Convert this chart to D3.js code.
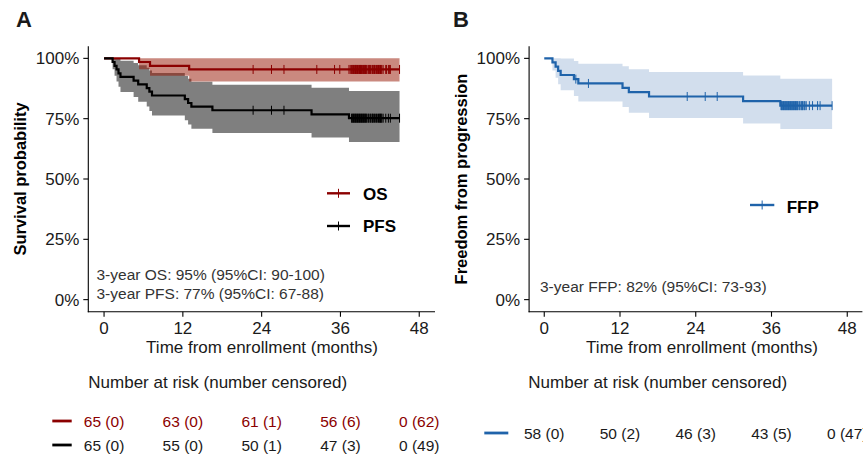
<!DOCTYPE html>
<html>
<head>
<meta charset="utf-8">
<script src="https://cdn.jsdelivr.net/npm/d3@7"></script>
<style>
  body { margin: 0; background: #fff; }
  svg { display: block; font-family: 'Liberation Sans', Arial, Helvetica, sans-serif; }
</style>
</head>
<body>
<svg id="chart" width="863" height="456"></svg>
<script>
// ── Shared axes ──
const xTicks = [0, 12, 24, 36, 48];
const yTicks = [0, 0.25, 0.5, 0.75, 1];

// ── Panel A: overall survival (n = 65) ──
const osTime  = [0, 5.33, 7.0, 12.96];
const osSurv  = [1, 0.985, 0.969, 0.954];
const osLower = [1, 0.955, 0.928, 0.904];
const osUpper = [1, 1, 1, 1];
const osEnd = 45.0;
const osCensor = [22.7, 25.5, 27.4, 32.4, 35.1, 35.9,
  37.3, 37.5, 37.7, 37.8, 37.9, 38.0, 38.1, 38.2, 38.3, 38.35, 38.4, 38.5, 38.6, 38.7,
  38.8, 38.9, 39.0, 39.05, 39.1, 39.2, 39.3, 39.4, 39.5, 39.6, 39.7, 39.75, 39.8, 39.9,
  40.0, 40.2, 40.3, 40.45, 40.5, 40.6, 40.8, 40.9, 41.0, 41.15, 41.2, 41.3, 41.5, 41.6,
  41.7, 41.8, 41.9, 42.0, 42.1, 42.2, 42.3, 42.5, 42.9, 43.0, 43.3, 43.45, 43.6, 45.0];
const osRisk = ['65 (0)', '63 (0)', '61 (1)', '56 (6)', '0 (62)'];

// ── Panel A: progression-free survival (n = 65) ──
const pfsTime  = [0, 1.3, 1.6, 1.9, 2.2, 2.5, 4.5, 5.2, 6.5, 6.9, 7.3, 12.3, 12.8, 13.3, 16.5, 31.6, 37.3];
const pfsSurv  = [1, 0.985, 0.969, 0.954, 0.938, 0.923, 0.908, 0.892, 0.877, 0.862, 0.846, 0.831, 0.815, 0.800, 0.785, 0.768, 0.752];
const pfsLower = [1, 0.955, 0.928, 0.904, 0.882, 0.861, 0.840, 0.820, 0.801, 0.782, 0.763, 0.744, 0.726, 0.708, 0.691, 0.672, 0.653];
const pfsUpper = [1, 1, 1, 1, 0.999, 0.990, 0.981, 0.971, 0.961, 0.950, 0.939, 0.927, 0.915, 0.903, 0.891, 0.878, 0.865];
const pfsEnd = 45.0;
const pfsCensor = [22.7, 25.5, 27.4,
  37.7, 37.8, 37.9, 38.0, 38.1, 38.2, 38.3, 38.4, 38.5, 38.6, 38.7, 38.8, 38.9, 39.0,
  39.1, 39.2, 39.3, 39.4, 39.5, 39.6, 39.7, 39.8, 39.9, 40.0, 40.2, 40.3, 40.5, 40.6,
  40.8, 40.9, 41.0, 41.2, 41.3, 41.5, 41.6, 41.8, 41.9, 42.0, 42.1, 42.2, 42.3,
  42.5, 42.9, 43.3, 43.6, 45.0];
const pfsRisk = ['65 (0)', '55 (0)', '50 (1)', '47 (3)', '0 (49)'];

// ── Panel B: freedom from progression (n = 58) ──
const ffpTime  = [0, 1.3, 1.8, 2.2, 2.6, 4.7, 5.4, 12.4, 13.4, 16.6, 31.5, 37.4];
const ffpSurv  = [1, 0.983, 0.966, 0.948, 0.931, 0.914, 0.896, 0.878, 0.860, 0.842, 0.823, 0.804];
const ffpLower = [1, 0.950, 0.920, 0.893, 0.868, 0.844, 0.821, 0.798, 0.775, 0.753, 0.730, 0.707];
const ffpUpper = [1, 1, 1, 1, 0.999, 0.989, 0.978, 0.967, 0.955, 0.943, 0.929, 0.915];
const ffpEnd = 45.6;
const ffpCensor = [5.0, 7.0, 22.65, 25.5, 27.4,
  37.5, 37.6, 37.7, 37.8, 37.9, 38.0, 38.1, 38.2, 38.3, 38.4, 38.5, 38.6, 38.7, 38.8,
  38.9, 39.0, 39.1, 39.2, 39.3, 39.4, 39.5, 39.6, 39.7, 39.8, 39.9, 40.0, 40.1, 40.2,
  40.4, 40.5, 40.7, 40.8, 40.9, 41.0, 41.2, 41.3, 41.5,
  42.0, 42.5, 43.3, 43.7, 45.6];
const ffpRisk = ['58 (0)', '50 (2)', '46 (3)', '43 (5)', '0 (47)'];

const RED = '#8B0000', BLACK = '#000000', BLUE = '#1F63AA';
const TEXT = '#1a1a1a';

const svg = d3.select('#chart');

function survAt(times, surv, t) {
  let s = surv[0];
  times.forEach((tt, i) => { if (tt <= t) s = surv[i]; });
  return s;
}

function stepPoints(times, vals, end) {
  const pts = times.map((t, i) => [t, vals[i]]);
  pts.push([end, vals[vals.length - 1]]);
  return pts;
}

// ── Axes frame for a panel ──
function drawAxes(g, x, y, yTitle, titleX, titleCx) {
  const [x0, x1] = x.range();
  const [yb, yt] = y.range();
  g.append('line').attr('x1', x0).attr('x2', x0).attr('y1', yt).attr('y2', yb + 0.5)
    .attr('stroke', '#000').attr('stroke-width', 1.1);
  g.append('line').attr('x1', x0 - 0.5).attr('x2', x1).attr('y1', yb).attr('y2', yb)
    .attr('stroke', '#000').attr('stroke-width', 1.1);

  yTicks.forEach(v => {
    g.append('line').attr('x1', x0 - 5).attr('x2', x0).attr('y1', y(v)).attr('y2', y(v))
      .attr('stroke', '#000').attr('stroke-width', 1.1);
    g.append('text').attr('x', x0 - 9).attr('y', y(v)).attr('dy', '0.36em')
      .attr('text-anchor', 'end').attr('font-size', 17).attr('fill', TEXT)
      .text(d3.format('.0%')(v));
  });
  xTicks.forEach(v => {
    g.append('line').attr('x1', x(v)).attr('x2', x(v)).attr('y1', yb).attr('y2', yb + 5)
      .attr('stroke', '#000').attr('stroke-width', 1.1);
    g.append('text').attr('x', x(v)).attr('y', 333.5)
      .attr('text-anchor', 'middle').attr('font-size', 17).attr('fill', TEXT).text(v);
  });

  g.append('text').attr('x', titleCx).attr('y', 353)
    .attr('text-anchor', 'middle').attr('font-size', 17).attr('fill', TEXT)
    .text('Time from enrollment (months)');
  g.append('text').attr('transform', `translate(${titleX},${(yt + yb) / 2}) rotate(-90)`)
    .attr('text-anchor', 'middle').attr('font-size', 16.5).attr('font-weight', 'bold')
    .attr('fill', '#000').text(yTitle);
}

function drawBand(g, x, y, s) {
  const pts = s.time.map((t, i) => ({ t, lo: s.lower[i], hi: s.upper[i] }));
  pts.push({ t: s.end, lo: s.lower[s.lower.length - 1], hi: s.upper[s.upper.length - 1] });
  g.append('path').datum(pts)
    .attr('d', d3.area().curve(d3.curveStepAfter).x(d => x(d.t)).y0(d => y(d.lo)).y1(d => y(d.hi)))
    .attr('fill', s.band).attr('fill-opacity', s.bandOpacity).attr('stroke', 'none');
}

function drawCurve(g, x, y, s) {
  g.append('path').datum(stepPoints(s.time, s.surv, s.end))
    .attr('d', d3.line().curve(d3.curveStepAfter).x(d => x(d[0])).y(d => y(d[1])))
    .attr('fill', 'none').attr('stroke', s.color).attr('stroke-width', 2.2);
}

function drawCensor(g, x, y, s) {
  g.selectAll(null).data(s.censor).enter().append('line')
    .attr('x1', d => x(d)).attr('x2', d => x(d))
    .attr('y1', d => y(survAt(s.time, s.surv, d)) - 4.5)
    .attr('y2', d => y(survAt(s.time, s.surv, d)) + 4.5)
    .attr('stroke', s.color).attr('stroke-width', 1);
}

function legendKey(g, x1, x2, yy, color, label, tx, ty) {
  g.append('line').attr('x1', x1).attr('x2', x2).attr('y1', yy).attr('y2', yy)
    .attr('stroke', color).attr('stroke-width', 2.4);
  g.append('line').attr('x1', (x1 + x2) / 2).attr('x2', (x1 + x2) / 2)
    .attr('y1', yy - 4.5).attr('y2', yy + 4.5).attr('stroke', color).attr('stroke-width', 1);
  g.append('text').attr('x', tx).attr('y', ty).attr('font-size', 17)
    .attr('font-weight', 'bold').attr('fill', '#000').text(label);
}

function drawRisk(g, x, rows, titleX, lineX1, lineX2) {
  g.append('text').attr('x', titleX).attr('y', 388).attr('font-size', 17)
    .attr('fill', TEXT).text('Number at risk (number censored)');
  rows.forEach(r => {
    g.append('line').attr('x1', lineX1).attr('x2', lineX2).attr('y1', r.y).attr('y2', r.y)
      .attr('stroke', r.lineColor).attr('stroke-width', 2.8);
    g.selectAll(null).data(r.values).enter().append('text')
      .attr('x', (d, i) => x(xTicks[i])).attr('y', r.y + 5.5)
      .attr('text-anchor', 'middle').attr('font-size', 15.5).attr('fill', r.textColor)
      .text(d => d);
  });
}

// ── Panel A ──
const xA = d3.scaleLinear().domain([-2.4, 50.4]).range([88.3, 435]);
const yA = d3.scaleLinear().domain([-0.05, 1.05]).range([311.7, 46.3]);
const gA = svg.append('g');

const os  = { time: osTime, surv: osSurv, lower: osLower, upper: osUpper, end: osEnd, censor: osCensor,
              color: RED, band: '#961400', bandOpacity: 0.5 };
const pfs = { time: pfsTime, surv: pfsSurv, lower: pfsLower, upper: pfsUpper, end: pfsEnd, censor: pfsCensor,
              color: BLACK, band: '#000000', bandOpacity: 0.5 };

drawBand(gA, xA, yA, pfs);
drawBand(gA, xA, yA, os);
drawCurve(gA, xA, yA, os);
drawCurve(gA, xA, yA, pfs);
drawCensor(gA, xA, yA, os);
drawCensor(gA, xA, yA, pfs);
drawAxes(gA, xA, yA, 'Survival probability', 26, 262);

gA.append('text').attr('x', 16).attr('y', 26.5).attr('font-size', 22)
  .attr('font-weight', 'bold').attr('fill', '#1a1a1a').text('A');

legendKey(gA, 327, 350, 193.3, RED, 'OS', 363, 200);
legendKey(gA, 327, 350, 226, BLACK, 'PFS', 363, 232.3);

gA.append('text').attr('x', 96.5).attr('y', 279.5).attr('font-size', 15.5)
  .attr('fill', '#333').text('3-year OS: 95% (95%CI: 90-100)');
gA.append('text').attr('x', 96.5).attr('y', 298.5).attr('font-size', 15.5)
  .attr('fill', '#333').text('3-year PFS: 77% (95%CI: 67-88)');

drawRisk(gA, xA, [
  { values: osRisk, y: 421, lineColor: RED, textColor: RED },
  { values: pfsRisk, y: 445, lineColor: BLACK, textColor: TEXT }
], 88.3, 52.3, 71.7);

// ── Panel B ──
const xB = d3.scaleLinear().domain([-2.4, 50.4]).range([529.1, 862.4]);
const yB = d3.scaleLinear().domain([-0.05, 1.05]).range([311.7, 46.3]);
const gB = svg.append('g');

const ffp = { time: ffpTime, surv: ffpSurv, lower: ffpLower, upper: ffpUpper, end: ffpEnd, censor: ffpCensor,
              color: BLUE, band: '#1F5AA6', bandOpacity: 0.2 };

drawBand(gB, xB, yB, ffp);
drawCurve(gB, xB, yB, ffp);
drawCensor(gB, xB, yB, ffp);
drawAxes(gB, xB, yB, 'Freedom from progression', 466.5, 702);

gB.append('text').attr('x', 453).attr('y', 26.5).attr('font-size', 22)
  .attr('font-weight', 'bold').attr('fill', '#1a1a1a').text('B');

legendKey(gB, 750, 774.3, 205, BLUE, 'FFP', 786.7, 213.3);

gB.append('text').attr('x', 540).attr('y', 291.7).attr('font-size', 15.5)
  .attr('fill', '#333').text('3-year FFP: 82% (95%CI: 73-93)');

drawRisk(gB, xB, [
  { values: ffpRisk, y: 433, lineColor: BLUE, textColor: TEXT }
], 528.3, 484.3, 508.3);
</script>
</body>
</html>
